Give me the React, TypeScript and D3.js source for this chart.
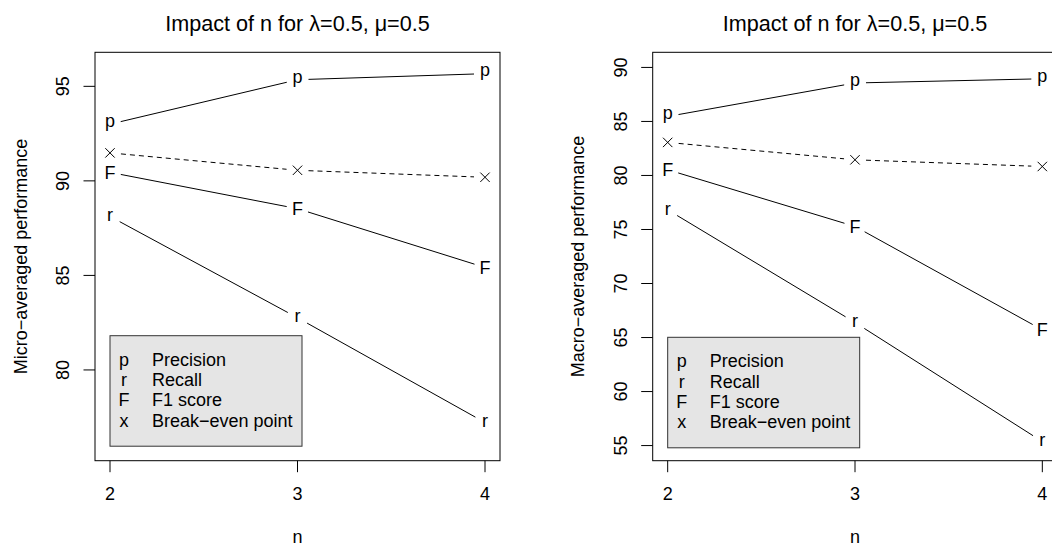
import React from "react";
import * as d3 from "d3";

// n values on the x axis
const nValues = [2, 3, 4];

// micro-averaged results
const microPrecision = [93.0, 95.35, 95.67];
const microRecall = [88.12, 82.76, 77.22];
const microF1 = [90.45, 88.53, 85.42];
const microBreakEven = [91.48, 90.56, 90.19];
const microYLim = [76, 96];
const microTicks = [80, 85, 90, 95];

// macro-averaged results
const macroPrecision = [85.46, 88.56, 88.95];
const macroRecall = [76.82, 66.39, 55.37];
const macroF1 = [80.53, 75.28, 65.71];
const macroBreakEven = [83.06, 81.45, 80.83];
const macroYLim = [55, 90];
const macroTicks = [55, 60, 65, 70, 75, 80, 85, 90];

const symbols = ["p", "r", "F", "x"];
const legendLabels = ["Precision", "Recall", "F1 score", "Break\u2212even point"];

const FONT = "'Liberation Sans', Arial, Helvetica, sans-serif";
const FS = 18;

// shift baseline so each glyph is visually centred on its point
const glyphShift: Record<string, number> = { p: 0.155, r: 0.26, x: 0.26, F: 0.358 };

type PanelProps = {
  left: number;
  right: number;
  top: number;
  bottom: number;
  ylim: number[];
  ticks: number[];
  series: number[][];
  ylab: string;
  legendTop: number;
};

function Panel({ left, right, top, bottom, ylim, ticks, series, ylab, legendTop }: PanelProps) {
  const xPad = (nValues[nValues.length - 1] - nValues[0]) * 0.04;
  const x = d3.scaleLinear()
    .domain([nValues[0] - xPad, nValues[nValues.length - 1] + xPad])
    .range([left, right]);
  const yPad = (ylim[1] - ylim[0]) * 0.04;
  const y = d3.scaleLinear().domain([ylim[0] - yPad, ylim[1] + yPad]).range([bottom, top]);

  const gap = 11;
  const cx = (left + right) / 2;
  const cy = (top + bottom) / 2;

  const legLeft = x(nValues[0]);
  const rowY = [30, 50.3, 70.6, 91];

  return (
    <g fontFamily={FONT} fontSize={FS} fill="#000">
      <text x={cx} y={31} textAnchor="middle" fontSize={21.6}>
        {"Impact of n for \u03bb=0.5, \u03bc=0.5"}
      </text>

      {/* series: type="b" lines with gaps around the points */}
      {series.map((vals, si) => {
        const pts = vals.map((v, i) => [x(nValues[i]), y(v)]);
        const segs = d3.pairs(pts).map(([a, b]) => {
          const dx = b[0] - a[0], dy = b[1] - a[1];
          const len = Math.hypot(dx, dy);
          const ux = dx / len, uy = dy / len;
          return [a[0] + ux * gap, a[1] + uy * gap, b[0] - ux * gap, b[1] - uy * gap];
        });
        const sym = symbols[si];
        return (
          <g key={si}>
            {segs.map((s, k) => (
              <line key={k} x1={s[0]} y1={s[1]} x2={s[2]} y2={s[3]} stroke="#000" strokeWidth={1}
                strokeDasharray={sym === "x" ? "5,4" : undefined} />
            ))}
            {pts.map((p, k) =>
              sym === "x" ? (
                <path key={k} d={`M${p[0] - 4.7},${p[1] - 4.7}L${p[0] + 4.7},${p[1] + 4.7}M${p[0] - 4.7},${p[1] + 4.7}L${p[0] + 4.7},${p[1] - 4.7}`}
                  stroke="#000" strokeWidth={1} fill="none" />
              ) : (
                <text key={k} x={p[0]} y={p[1] + glyphShift[sym] * FS} textAnchor="middle">{sym}</text>
              )
            )}
          </g>
        );
      })}

      {/* legend */}
      <rect x={legLeft} y={legendTop} width={192} height={110.5} fill="#e5e5e5" stroke="#333" strokeWidth={1} />
      {symbols.map((s, i) => (
        <g key={s}>
          <text x={legLeft + 14} y={legendTop + rowY[i]} textAnchor="middle">{s}</text>
          <text x={legLeft + 42} y={legendTop + rowY[i]}>{legendLabels[i]}</text>
        </g>
      ))}

      {/* box */}
      <rect x={left} y={top} width={right - left} height={bottom - top} fill="none" stroke="#000" strokeWidth={1} />

      {/* x axis */}
      {nValues.map(n => (
        <g key={n}>
          <line x1={x(n)} x2={x(n)} y1={bottom} y2={bottom + 11.5} stroke="#000" />
          <text x={x(n)} y={bottom + 39.3} textAnchor="middle">{n}</text>
        </g>
      ))}
      <text x={cx} y={bottom + 82.3} textAnchor="middle">n</text>

      {/* y axis */}
      {ticks.map(t => (
        <g key={t}>
          <line x1={left - 11.5} x2={left} y1={y(t)} y2={y(t)} stroke="#000" />
          <text transform={`translate(${left - 26},${y(t)}) rotate(-90)`} textAnchor="middle">{t}</text>
        </g>
      ))}
      <text transform={`translate(${left - 68.3},${cy}) rotate(-90)`} textAnchor="middle">{ylab}</text>
    </g>
  );
}

export default function App() {
  return (
    <svg width={1052} height={546} style={{ position: "absolute", left: 0, top: 0, background: "#fff" }}>
      <rect width={1052} height={546} fill="#fff" />
      <Panel left={95} right={500} top={52.3} bottom={460.7} ylim={microYLim} ticks={microTicks}
        series={[microPrecision, microRecall, microF1, microBreakEven]}
        ylab={"Micro\u2212averaged performance"} legendTop={335.7} />
      <Panel left={652.7} right={1057.3} top={52.3} bottom={460.7} ylim={macroYLim} ticks={macroTicks}
        series={[macroPrecision, macroRecall, macroF1, macroBreakEven]}
        ylab={"Macro\u2212averaged performance"} legendTop={337.3} />
    </svg>
  );
}
